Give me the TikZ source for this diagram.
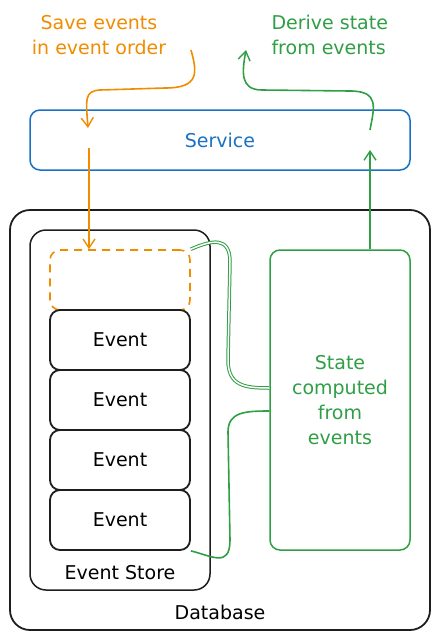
\documentclass[tikz,border=0pt]{standalone}
\usepackage{fontspec}
\setmainfont{DejaVu Sans}
\usetikzlibrary{arrows.meta}
\definecolor{sketchblack}{HTML}{1E1E1E}
\definecolor{sketchorange}{HTML}{F08C00}
\definecolor{sketchgreen}{HTML}{2F9E44}
\definecolor{sketchblue}{HTML}{1971C2}
\begin{document}
\begin{tikzpicture}[x=1pt,y=-1pt,
  font=\fontsize{19}{25}\selectfont,
  box/.style={draw=sketchblack,line width=1.5pt,rounded corners=10pt,inner sep=0pt},
  evbox/.style={box,line width=1.8pt,minimum width=140pt,minimum height=60pt},
  orangeline/.style={draw=sketchorange,line width=1.6pt},
  greenline/.style={draw=sketchgreen,line width=1.6pt},
  tip/.style={-{Straight Barb[length=9pt,width=12pt,line width=1.4pt]}}]
  \useasboundingbox (0,0) rectangle (440,640);

  % Labels at the top
  \node[text=sketchorange,align=center] (savetxt) at (99,35) {Save events\\in event order};
  \node[text=sketchgreen,align=left,anchor=west] (derivetxt) at (268,35) {Derive state\\from events};

  % Service
  \node[box,draw=sketchblue,text=sketchblue,minimum width=380pt,minimum height=60pt] (service) at (220,140) {Service};

  % Database and event store
  \node[box,rounded corners=20pt,line width=1.8pt,minimum width=420pt,minimum height=420pt] (db) at (220,420) {};
  \node at (220,612) {Database};
  \node[box,rounded corners=16pt,minimum width=180pt,minimum height=360pt] (store) at (120,410) {};
  \node at (120,573) {Event Store};

  % Slot for the next event
  \node[box,draw=sketchorange,dashed,dash pattern=on 8pt off 6pt,line width=1.6pt,minimum width=140pt,minimum height=60pt] (slot) at (120,280) {};

  % Events
  \foreach \i in {1,2,3,4}
    \node[evbox] (ev-\i) at (120,280+\i*60) {Event};

  % Derived state
  \node[box,draw=sketchgreen,text=sketchgreen,align=center,minimum width=140pt,minimum height=300pt] (state) at (340,400) {State\\computed\\from\\events};

  % Save path
  \coordinate (o-start) at (191,50);
  \coordinate (o-in) at (88,128);
  \coordinate (o-out) at (89,148);
  \draw[orangeline,tip] (o-start) .. controls (197,72) and (200,88) .. (165,88)
    -- (100,90) .. controls (84,91) and (86,100) .. (o-in);
  \draw[orangeline,tip] (o-out) -- (slot.north -| o-out);

  % Derive path
  \coordinate (g-in) at (370,150);
  \coordinate (g-out) at (370,130);
  \coordinate (g-tip) at (246,50);
  \draw[greenline,tip] (state.north -| g-in) -- (g-in);
  \draw[greenline,tip] (g-out) .. controls (374,108) and (380,91) .. (350,91)
    -- (262,90) .. controls (240,90) and (242,72) .. (g-tip);

  % Events feeding the state
  \draw[greenline,line width=1pt,double=white,double distance=1.5pt] (slot.north east) .. controls (212,240) and (230,236) .. (230,262)
    -- (228,360) .. controls (228,386) and (245,388) .. ([yshift=12pt]state.west);
  \draw[greenline] (ev-4.south east) .. controls (212,556) and (230,568) .. (230,540)
    -- (228,432) .. controls (228,412) and (245,411) .. ([yshift=-11pt]state.west);
\end{tikzpicture}
\end{document}
